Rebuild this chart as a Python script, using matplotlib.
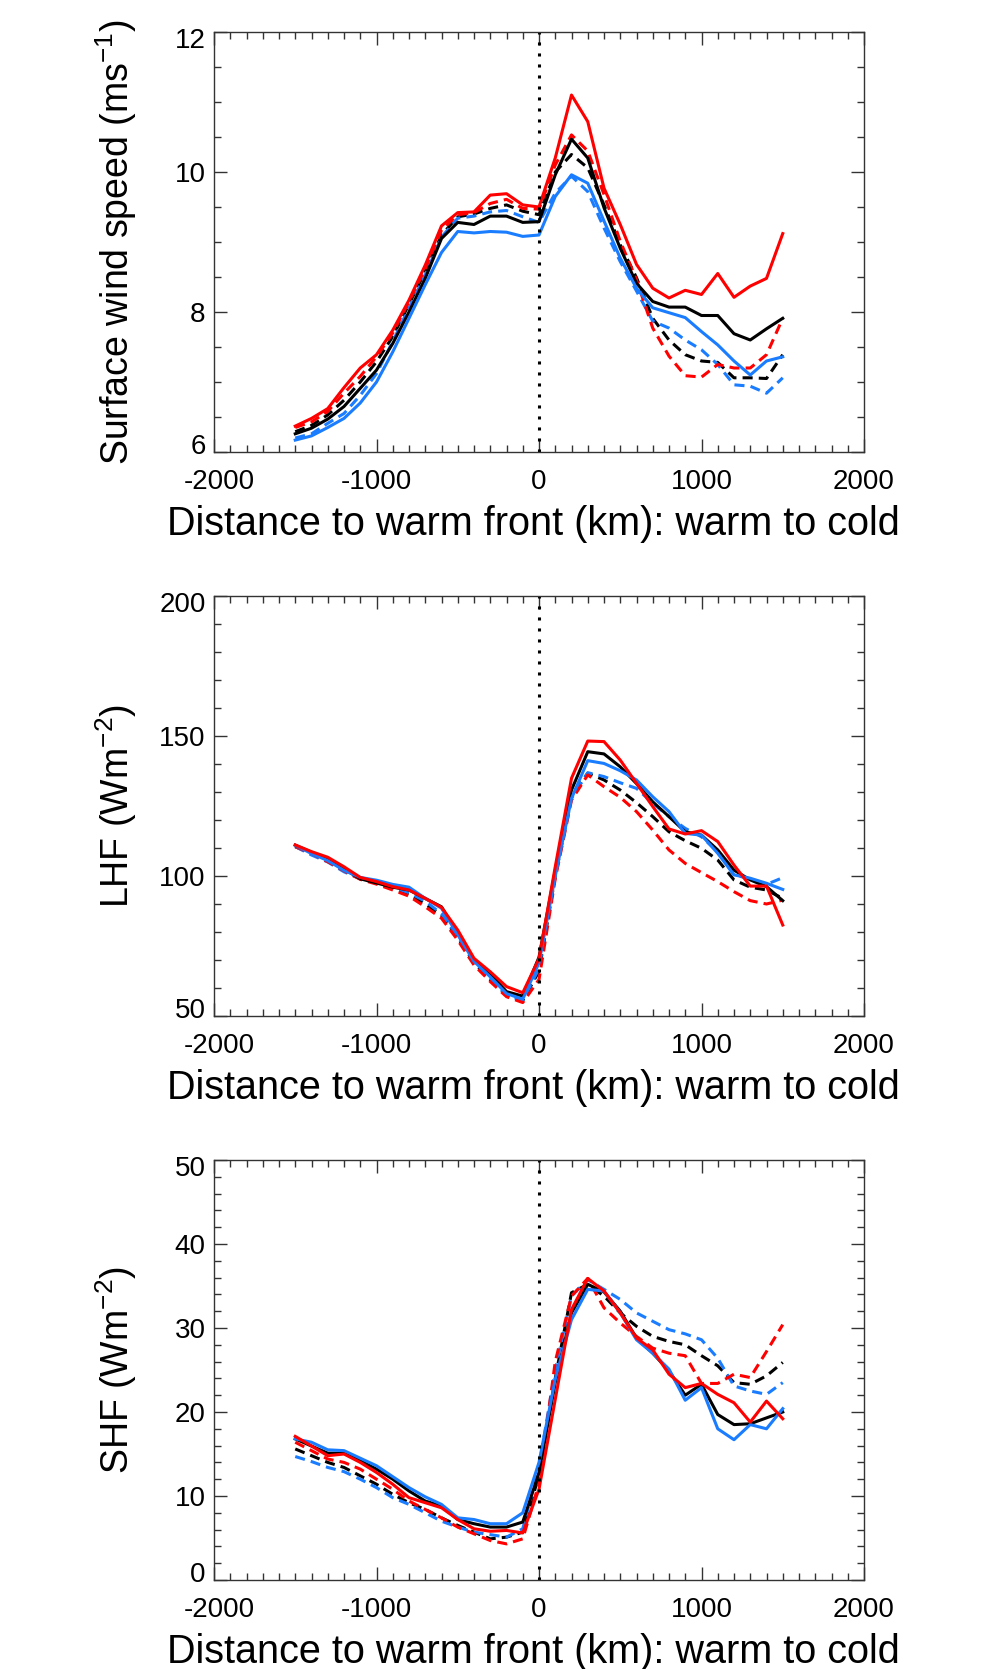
import numpy as np
import matplotlib as mpl
mpl.use("Agg")
import matplotlib.pyplot as plt
import matplotlib.transforms as mtransforms
from matplotlib.ticker import MultipleLocator

plt.rcParams['font.family'] = ['Liberation Sans', 'DejaVu Sans']
plt.rcParams['mathtext.fontset'] = 'custom'
plt.rcParams['mathtext.rm'] = 'Liberation Sans'
plt.rcParams['axes.unicode_minus'] = False

# distance to warm front (km), every 100 km
distance = [-1500, -1400, -1300, -1200, -1100, -1000, -900, -800, -700, -600,
            -500, -400, -300, -200, -100, 0, 100, 200, 300, 400, 500, 600,
            700, 800, 900, 1000, 1100, 1200, 1300, 1400, 1500]

# surface wind speed (m/s)
wind_black = [6.26, 6.34, 6.47, 6.65, 6.91, 7.17, 7.55, 8.00, 8.48, 9.05, 9.28, 9.25, 9.37, 9.37, 9.28, 9.29,
              9.96, 10.47, 10.20, 9.49, 8.91, 8.41, 8.15, 8.07, 8.07, 7.95, 7.95, 7.69, 7.60, 7.76, 7.91]
wind_red = [6.37, 6.48, 6.62, 6.92, 7.20, 7.39, 7.74, 8.17, 8.67, 9.23, 9.42, 9.43, 9.67, 9.69, 9.53, 9.50,
            10.20, 11.10, 10.72, 9.77, 9.25, 8.68, 8.34, 8.20, 8.31, 8.25, 8.55, 8.21, 8.37, 8.48, 9.12]
wind_blue = [6.17, 6.23, 6.35, 6.48, 6.70, 7.00, 7.43, 7.91, 8.39, 8.85, 9.15, 9.13, 9.15, 9.14, 9.08, 9.10,
             9.65, 9.96, 9.84, 9.30, 8.77, 8.34, 8.06, 7.99, 7.92, 7.72, 7.53, 7.30, 7.10, 7.30, 7.36]
wind_black_d = [6.29, 6.38, 6.53, 6.74, 7.00, 7.29, 7.65, 8.11, 8.58, 9.10, 9.36, 9.40, 9.48, 9.53, 9.44, 9.39,
                10.00, 10.25, 10.06, 9.53, 8.96, 8.49, 7.91, 7.60, 7.39, 7.30, 7.28, 7.06, 7.06, 7.05, 7.39]
wind_red_d = [6.35, 6.43, 6.58, 6.84, 7.08, 7.36, 7.70, 8.15, 8.62, 9.17, 9.39, 9.42, 9.55, 9.61, 9.48, 9.47,
              10.10, 10.53, 10.30, 9.68, 9.01, 8.46, 7.77, 7.37, 7.09, 7.07, 7.25, 7.20, 7.20, 7.39, 7.91]
wind_blue_d = [6.20, 6.26, 6.41, 6.55, 6.81, 7.12, 7.58, 8.06, 8.53, 9.07, 9.34, 9.37, 9.43, 9.45, 9.36, 9.28,
               9.70, 9.94, 9.72, 9.20, 8.72, 8.30, 7.87, 7.77, 7.60, 7.46, 7.25, 6.96, 6.94, 6.84, 7.06]

# latent heat flux (W/m2)
lhf_black = [111.0, 108.5, 106.0, 102.5, 99.0, 97.5, 96.0, 95.0, 92.0, 89.0, 79.5, 70.0, 65.0, 58.7, 57.1, 71.0,
             102.0, 130.7, 144.4, 143.6, 139.0, 133.0, 126.5, 121.2, 115.8, 114.6, 109.3, 102.1, 98.6, 96.2, 91.2]
lhf_red = [111.1, 108.7, 106.7, 103.3, 99.5, 98.0, 96.2, 95.0, 92.0, 88.8, 80.7, 70.6, 65.8, 60.5, 58.3, 70.5,
           103.3, 134.9, 148.2, 148.0, 141.4, 133.1, 124.8, 116.8, 115.0, 116.2, 112.3, 103.9, 96.4, 96.4, 82.5]
lhf_blue = [111.0, 108.0, 105.5, 102.0, 99.5, 98.5, 97.0, 96.0, 92.0, 88.5, 79.0, 69.5, 64.0, 58.0, 56.0, 69.0,
            100.0, 127.7, 141.2, 140.2, 137.6, 134.3, 128.3, 123.0, 115.2, 114.6, 108.1, 100.4, 99.2, 97.4, 95.2]
lhf_black_d = [110.5, 108.0, 105.5, 102.0, 99.0, 97.5, 95.5, 93.5, 90.0, 86.0, 78.0, 69.0, 63.0, 57.5, 55.5, 66.0,
               100.0, 128.9, 136.7, 134.3, 130.7, 126.2, 121.2, 115.8, 112.6, 109.9, 105.7, 98.6, 96.0, 95.0, 92.0]
lhf_red_d = [110.5, 108.1, 105.1, 101.9, 98.8, 97.1, 95.0, 92.8, 89.0, 84.9, 77.1, 68.2, 62.3, 56.9, 54.8, 63.0,
             99.0, 127.1, 136.1, 131.9, 128.1, 123.0, 116.4, 109.3, 104.5, 101.2, 98.0, 94.4, 91.2, 90.0, 91.4]
lhf_blue_d = [110.5, 107.5, 105.0, 101.5, 99.0, 97.5, 96.0, 94.0, 91.0, 86.5, 78.5, 69.5, 63.5, 57.5, 55.5, 67.0,
              100.0, 127.7, 136.9, 135.5, 133.3, 131.3, 126.0, 121.2, 117.0, 114.0, 108.7, 100.4, 99.0, 97.0, 99.4]

# sensible heat flux (W/m2)
shf_black = [16.8, 15.95, 15.1, 15.1, 14.2, 13.2, 12.0, 10.6, 9.4, 8.8, 7.2, 6.7, 6.3, 6.3, 6.9, 12.8,
             23.5, 31.8, 35.2, 34.3, 32.0, 28.8, 27.0, 24.9, 22.0, 23.3, 19.7, 18.5, 18.6, 19.3, 20.0]
shf_red = [17.1, 15.95, 14.8, 15.0, 14.0, 12.8, 11.4, 9.8, 9.2, 8.6, 7.2, 6.1, 5.8, 5.9, 5.6, 10.8,
           21.5, 32.2, 35.9, 34.4, 31.8, 28.8, 27.4, 24.5, 22.9, 23.4, 22.1, 21.1, 18.8, 21.3, 19.2]
shf_blue = [16.8, 16.4, 15.5, 15.4, 14.5, 13.6, 12.3, 11.0, 9.9, 9.0, 7.4, 7.2, 6.7, 6.7, 8.0, 14.0,
            23.9, 31.0, 34.6, 34.4, 31.8, 28.6, 27.0, 25.1, 21.4, 22.9, 18.0, 16.7, 18.5, 18.0, 20.4]
shf_black_d = [15.6, 14.8, 14.0, 13.4, 12.4, 11.4, 10.2, 9.2, 8.4, 7.4, 6.5, 5.7, 4.9, 5.1, 5.7, 12.5,
               24.0, 34.2, 35.2, 33.8, 31.8, 30.2, 29.0, 28.4, 28.0, 26.7, 25.5, 23.5, 23.3, 24.3, 25.9]
shf_red_d = [16.4, 15.4, 14.4, 14.0, 13.2, 12.0, 10.8, 9.4, 8.4, 7.4, 6.3, 5.5, 4.7, 4.3, 4.9, 11.5,
             26.0, 33.8, 35.9, 32.4, 30.6, 29.0, 27.6, 27.0, 26.7, 23.4, 23.4, 24.5, 24.1, 27.2, 30.4]
shf_blue_d = [14.7, 14.1, 13.4, 12.9, 12.0, 11.0, 9.8, 9.0, 8.0, 7.0, 6.3, 5.7, 5.4, 5.1, 6.1, 13.5,
              25.0, 33.8, 35.75, 34.6, 33.4, 31.8, 30.8, 29.8, 29.3, 28.6, 26.4, 23.1, 22.5, 22.1, 23.5]

panels = [
    dict(solid=[wind_black, wind_blue, wind_red], dashed=[wind_black_d, wind_blue_d, wind_red_d],
         ylim=(6, 12), major=2, minor=0.5, ylabel='Surface wind speed (ms$^{-1}$)'),
    dict(solid=[lhf_black, lhf_blue, lhf_red], dashed=[lhf_black_d, lhf_blue_d, lhf_red_d],
         ylim=(50, 200), major=50, minor=10, ylabel='LHF (Wm$^{-2}$)'),
    dict(solid=[shf_black, shf_blue, shf_red], dashed=[shf_black_d, shf_blue_d, shf_red_d],
         ylim=(0, 50), major=10, minor=2, ylabel='SHF (Wm$^{-2}$)'),
]

colors = ['black', '#1a7cff', '#ff0000']
W, H = 996, 1669
fig = plt.figure(figsize=(W / 100, H / 100), dpi=100)


def shift(label, dx_pt, dy_pt):
    label.set_transform(label.get_transform() +
                        mtransforms.ScaledTranslation(dx_pt / 72, dy_pt / 72, fig.dpi_scale_trans))


tops = [32, 596, 1160]
axes = []
for top, p in zip(tops, panels):
    ax = fig.add_axes([214 / W, 1 - (top + 420) / H, 650 / W, 420 / H])
    axes.append(ax)

    for vals, c in zip(p['dashed'], colors):
        ax.plot(distance, vals, color=c, lw=2.2, linestyle=(0, (3.3, 2.0)))
    for vals, c in zip(p['solid'], colors):
        ax.plot(distance, vals, color=c, lw=2.2)
    ax.axvline(0, color='black', lw=2.2, linestyle=(0, (1.0, 2.6)))

    ax.set_xlim(-2000, 2000)
    ax.set_ylim(*p['ylim'])
    ax.xaxis.set_major_locator(MultipleLocator(1000))
    ax.xaxis.set_minor_locator(MultipleLocator(100))
    ax.yaxis.set_major_locator(MultipleLocator(p['major']))
    ax.yaxis.set_minor_locator(MultipleLocator(p['minor']))
    ax.tick_params(which='both', direction='in', top=True, right=True, color='#333333', width=1.0)
    ax.tick_params(which='major', length=9.5, labelsize=20)
    ax.tick_params(which='minor', length=5)
    ax.tick_params(axis='x', which='major', pad=12)
    ax.tick_params(axis='y', which='major', pad=6)
    for s in ax.spines.values():
        s.set_linewidth(1.0)
        s.set_color('#333333')

    ax.set_xlabel('Distance to warm front (km): warm to cold', fontsize=28.5)
    ax.xaxis.set_label_coords(0.491, -0.127)
    ax.set_ylabel(p['ylabel'], fontsize=27)
    ax.yaxis.set_label_coords(-0.115, 0.5)

fig.canvas.draw()
for ax, p in zip(axes, panels):
    lo, hi = p['ylim']
    # end labels on the y axis sit a little inside the axis range
    for tick in ax.yaxis.get_major_ticks():
        loc = tick.get_loc()
        if np.isclose(loc, lo):
            shift(tick.label1, 0, 5.5)
        elif np.isclose(loc, hi):
            shift(tick.label1, 0, -4)
    for tick in ax.xaxis.get_major_ticks():
        if np.isclose(tick.get_loc(), -2000):
            shift(tick.label1, 3.5, 0)

fig.savefig('out.png', dpi=100)
